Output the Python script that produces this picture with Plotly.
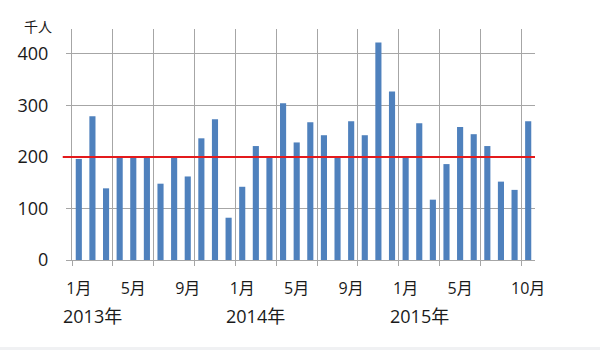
import plotly.graph_objects as go

# Data: monthly visitors (thousand persons), Jan 2013 - Oct 2015
values = [196, 279, 139, 200, 200, 200, 148, 200, 162, 236, 273, 82,
          142, 221, 200, 304, 228, 267, 242, 200, 269, 242, 422, 327,
          200, 265, 117, 186, 258, 244, 221, 152, 136, 269]
threshold = 200
tick_idx = [0, 4, 8, 12, 16, 20, 24, 28, 33]
tick_text = ["1月", "5月", "9月", "1月", "5月", "9月", "1月", "5月", "10月"]
year_idx = [0, 12, 24]
year_text = ["2013年", "2014年", "2015年"]
y_ticks = [0, 100, 200, 300, 400]

x = list(range(len(values)))
font_family = "Open Sans, Noto Sans CJK JP, sans-serif"
grid_col = "#a6a6a6"

fig = go.Figure()
fig.add_trace(go.Bar(x=x, y=values, marker=dict(color="#4f81bd", line_width=0),
                     width=0.45, hoverinfo="y"))

fig.add_shape(type="line", xref="paper", yref="y", x0=-0.02, x1=1,
              y0=threshold, y1=threshold, line=dict(color="#e31a1c", width=2))

# faint grey strip along the bottom edge of the picture
fig.add_shape(type="rect", xref="paper", yref="paper", x0=-0.2, x1=1.2,
              y0=-0.40, y1=-0.377, line_width=0, fillcolor="#f0f1f3",
              layer="below")

for i, t in zip(year_idx, year_text):
    fig.add_annotation(x=i + 1, y=0, xref="x", yref="paper", text=t,
                       showarrow=False, yshift=-70, xanchor="center",
                       font=dict(size=18, color="#1a1a1a", family=font_family))

fig.add_annotation(x=0, y=1, xref="paper", yref="paper", text="千人",
                   showarrow=False, xanchor="left", yanchor="bottom",
                   xshift=-50, yshift=-9,
                   font=dict(size=14, color="#1a1a1a", family=font_family))

fig.update_layout(
    width=600, height=350,
    margin=dict(l=72, r=65, t=29, b=90),
    paper_bgcolor="white", plot_bgcolor="white",
    showlegend=False, bargap=0.5,
    font=dict(family=font_family, color="#1a1a1a"),
)
fig.update_xaxes(
    range=[-0.5, len(values) - 0.5], tickmode="array", tickvals=tick_idx,
    ticktext=tick_text, showgrid=False, ticks="", tickfont=dict(size=16),
    ticklabelstandoff=14,
    showline=True, linecolor=grid_col, linewidth=1,
    minor=dict(tickmode="linear", tick0=-0.5, dtick=3, showgrid=True,
               gridcolor=grid_col, gridwidth=1, ticks="outside", ticklen=5,
               tickcolor=grid_col),
    zeroline=False,
)
fig.update_yaxes(
    range=[0, 448], tickmode="array", tickvals=y_ticks, showgrid=True,
    gridcolor=grid_col, gridwidth=1, ticks="outside", ticklen=5,
    tickcolor=grid_col, tickfont=dict(size=18), showline=True,
    linecolor=grid_col, zeroline=False, ticklabelstandoff=14,
)

fig.write_html("out.html")
